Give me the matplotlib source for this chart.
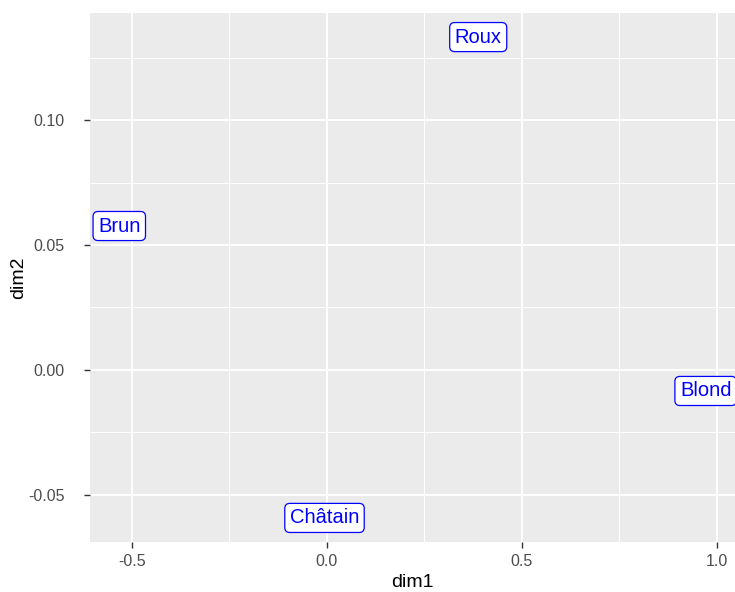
import numpy as np
import matplotlib
matplotlib.use("Agg")
import matplotlib.pyplot as plt
from matplotlib.ticker import MultipleLocator

# coordinates
labels = ["Brun", "Châtain", "Roux", "Blond"]
dim1 = [-0.532, -0.006, 0.388, 0.971]
dim2 = [0.0576, -0.0592, 0.1332, -0.0084]

plt.rcParams['font.family'] = ['Liberation Sans', 'DejaVu Sans']

fig = plt.figure(figsize=(7.35, 5.92), dpi=100)
ax = fig.add_axes([0.1224, 0.0845, 0.8776, 0.8935])
ax.set_facecolor('#EBEBEB')

# ggplot-like 5% expansion of the data range
x0, x1 = min(dim1), max(dim1)
y0, y1 = min(dim2), max(dim2)
dx = (x1 - x0) * 0.05
dy = (y1 - y0) * 0.05
ax.set_xlim(x0 - dx, x1 + dx)
ax.set_ylim(y0 - dy, y1 + dy)

ax.xaxis.set_major_locator(MultipleLocator(0.5))
ax.xaxis.set_minor_locator(MultipleLocator(0.25))
ax.yaxis.set_major_locator(MultipleLocator(0.05))
ax.yaxis.set_minor_locator(MultipleLocator(0.025))
ax.xaxis.set_major_formatter(plt.FuncFormatter(lambda v, p: f"{v:.1f}"))
ax.yaxis.set_major_formatter(plt.FuncFormatter(lambda v, p: f"{v:.2f}"))

ax.grid(which='major', color='white', linewidth=1.4)
ax.grid(which='minor', color='white', linewidth=0.7)
ax.set_axisbelow(True)
for s in ax.spines.values():
    s.set_visible(False)

ax.tick_params(which='major', length=4, width=1, color='#333333',
               labelcolor='#4D4D4D', labelsize=11.5)
ax.tick_params(axis='x', pad=5)
ax.tick_params(axis='y', pad=14)
ax.tick_params(which='minor', length=0)

for lab, x, y in zip(labels, dim1, dim2):
    ax.text(x, y, lab, color='blue', fontsize=14.5, ha='center', va='center',
            clip_on=True,
            bbox=dict(boxstyle='round,pad=0.25,rounding_size=0.25',
                      facecolor='white', edgecolor='blue', linewidth=0.9))

ax.set_xlabel('dim1', fontsize=14, color='black', labelpad=3)
ax.set_ylabel('dim2', fontsize=14, color='black', labelpad=1)

fig.savefig('out.png', dpi=100)
